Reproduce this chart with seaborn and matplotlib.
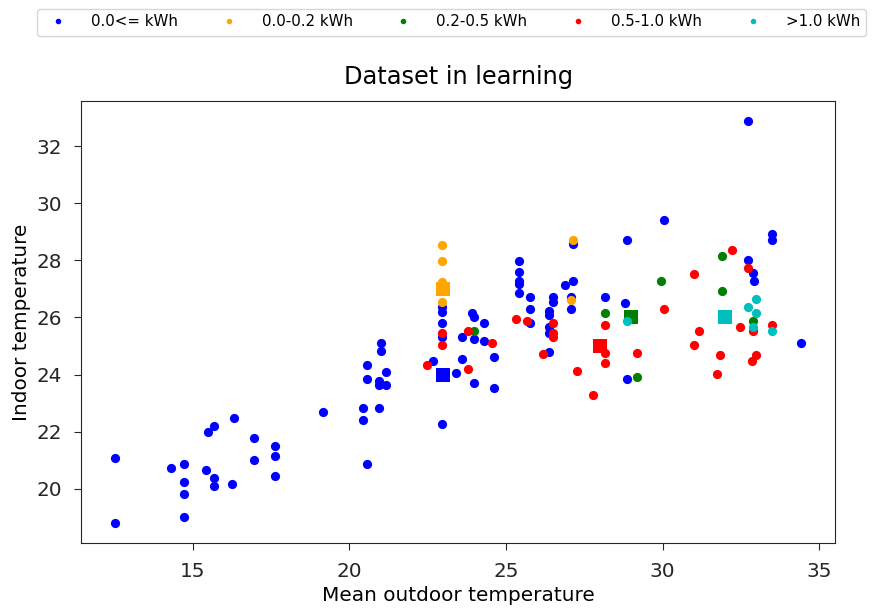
import numpy as np
import pandas as pd
import matplotlib
matplotlib.use("Agg")
import matplotlib.pyplot as plt
from matplotlib.lines import Line2D
import seaborn as sns

categories = ["0.0<= kWh", "0.0-0.2 kWh", "0.2-0.5 kWh", "0.5-1.0 kWh", ">1.0 kWh"]
colors = ["#0000ff", "#ffa500", "#008000", "#ff0000", "#00bfbf"]

blue_x = [12.52, 12.52, 14.31, 14.71, 14.71, 14.71, 14.71, 15.41, 15.48, 15.68, 15.68, 15.68,
          16.25, 16.30, 16.96, 16.96, 17.61, 17.61, 17.61, 19.14, 20.43, 20.43, 20.57, 20.57,
          20.57, 20.94, 20.94, 20.94, 21.01, 21.01, 21.15, 21.15, 22.68, 22.95, 22.95, 22.95,
          22.95, 22.95, 23.41, 23.60, 23.60, 23.92, 23.98, 23.98, 23.98, 24.30, 24.30, 24.62,
          24.62, 25.40, 25.40, 25.40, 25.40, 25.40, 25.78, 25.78, 25.78, 26.36, 26.36, 26.36,
          26.36, 26.36, 26.49, 26.49, 26.87, 27.07, 27.07, 27.14, 27.14, 28.17, 28.81, 28.86,
          28.86, 30.03, 32.74, 32.74, 32.87, 32.93, 33.49, 33.49, 34.41]
blue_y = [21.07, 18.80, 20.72, 20.86, 20.23, 19.80, 19.01, 20.65, 21.99, 22.21, 20.37, 20.08,
          20.15, 22.49, 21.78, 21.00, 21.50, 21.13, 20.43, 22.70, 22.84, 22.42, 24.33, 23.83,
          20.87, 23.79, 23.62, 22.84, 25.10, 24.81, 24.10, 23.62, 24.48, 26.38, 26.18, 25.80,
          25.33, 22.28, 24.04, 25.31, 24.54, 26.17, 26.03, 25.24, 23.69, 25.81, 25.18, 24.60,
          23.54, 27.99, 27.58, 27.29, 27.17, 26.87, 26.72, 26.30, 25.81, 26.24, 26.07, 25.66,
          25.45, 24.78, 26.71, 26.53, 27.15, 26.73, 26.30, 28.57, 27.29, 26.73, 26.51, 28.71,
          23.83, 29.42, 32.88, 28.01, 27.57, 27.29, 28.94, 28.71, 25.10]

orange_x = [22.95, 22.95, 22.95, 22.95, 27.14, 27.07]
orange_y = [28.54, 27.99, 27.23, 26.53, 28.72, 26.62]

green_x = [23.98, 28.17, 29.18, 29.96, 31.89, 31.89, 32.90]
green_y = [25.53, 26.16, 23.91, 27.29, 28.15, 26.94, 25.89]

red_x = [22.48, 22.95, 22.95, 23.79, 23.79, 24.55, 25.31, 25.66, 26.17, 26.49, 26.49, 26.49,
         27.27, 27.78, 28.17, 28.17, 28.17, 29.18, 30.03, 30.99, 30.99, 31.15, 31.75, 31.84,
         32.21, 32.48, 32.74, 32.85, 32.90, 32.99, 33.49]
red_y = [24.33, 25.45, 25.04, 25.53, 24.19, 25.10, 25.96, 25.89, 24.73, 25.81, 25.45, 25.33,
         24.11, 23.27, 25.74, 24.75, 24.40, 24.75, 26.30, 27.52, 25.04, 25.54, 24.03, 24.67,
         28.36, 25.66, 27.72, 24.46, 25.52, 24.67, 25.75]

cyan_x = [28.86, 32.72, 32.99, 32.99, 32.90, 33.49]
cyan_y = [25.87, 26.38, 26.66, 26.17, 25.68, 25.54]

center_x = [23, 23, 29, 28, 32]
center_y = [24, 27, 26, 25, 26]

xs = [blue_x, orange_x, green_x, red_x, cyan_x]
ys = [blue_y, orange_y, green_y, red_y, cyan_y]

fig = plt.figure(figsize=(8.74, 6.09), dpi=100)
ax = fig.add_axes([81 / 874, 66 / 609, 754 / 874, 442 / 609])

for cat, col, x, y, cx, cy in zip(categories, colors, xs, ys, center_x, center_y):
    df = pd.DataFrame({"x": x, "y": y})
    sns.scatterplot(data=df, x="x", y="y", color=col, s=44, linewidth=0, ax=ax, legend=False)
    dc = pd.DataFrame({"x": [cx], "y": [cy]})
    sns.scatterplot(data=dc, x="x", y="y", color=col, marker="s", s=115, linewidth=0,
                    ax=ax, legend=False)

ax.set_title("Dataset in learning", fontsize=17.3, pad=12)
ax.set_xlabel("Mean outdoor temperature", fontsize=14.4)
ax.set_ylabel("Indoor temperature", fontsize=14.4)
ax.tick_params(labelsize=14.4, length=5, pad=8.5, colors="#262626", labelcolor="#262626")
for sp in ax.spines.values():
    sp.set_color("#262626")
ax.set_xticks([15, 20, 25, 30, 35])
ax.set_yticks([20, 22, 24, 26, 28, 30, 32])

handles = [Line2D([], [], marker="o", linestyle="", color=c, markersize=4, markeredgewidth=0)
           for c in colors]
fig.legend(handles, categories, loc="center", ncol=5, mode="expand",
           bbox_to_anchor=(37 / 874, 1 - 38 / 609, 829 / 874, 32 / 609),
           fontsize=10.8, frameon=True, handletextpad=1.2, borderaxespad=0)

fig.savefig("out.png", dpi=100)
